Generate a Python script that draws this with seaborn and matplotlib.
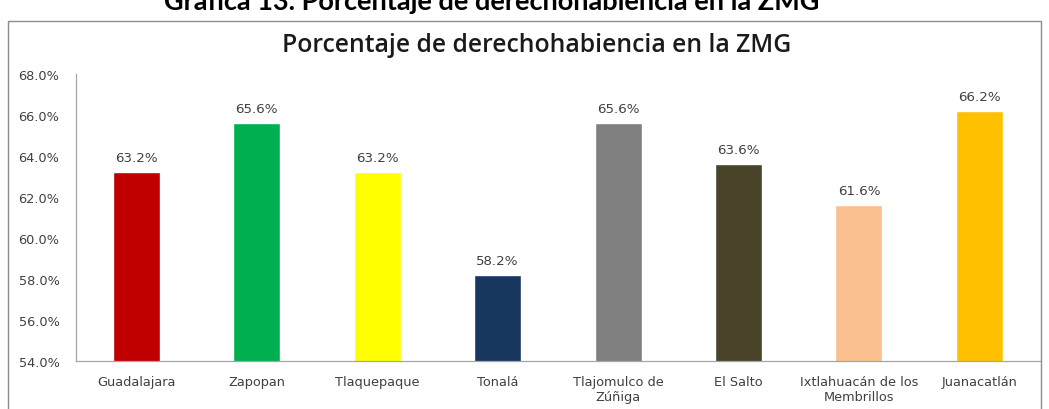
import matplotlib
matplotlib.use("Agg")
import matplotlib.pyplot as plt
import seaborn as sns
import pandas as pd
from matplotlib.patches import Rectangle
from matplotlib.ticker import FuncFormatter, FixedLocator

# data
municipios = ["Guadalajara", "Zapopan", "Tlaquepaque", "Tonalá",
              "Tlajomulco de\nZúñiga", "El Salto",
              "Ixtlahuacán de los\nMembrillos", "Juanacatlán"]
porcentaje = [63.2, 65.6, 63.2, 58.2, 65.6, 63.6, 61.6, 66.2]
colores = ["#C00000", "#00B050", "#FFFF00", "#17375E",
           "#808080", "#494429", "#FAC090", "#FFC000"]
y_ticks = [54, 56, 58, 60, 62, 64, 66, 68]

df = pd.DataFrame({"municipio": municipios, "pct": porcentaje})

sns.set_style("white")
plt.rcParams["font.family"] = ["DejaVu Sans"]

fig = plt.figure(figsize=(10.49, 4.10), dpi=100)
ax = fig.add_axes([0.0725, 0.117, 0.9185, 0.70])

sns.barplot(data=df, x="municipio", y="pct", hue="municipio",
            palette=colores, legend=False, width=0.39, saturation=1, ax=ax)

ax.set_ylim(54, 68)
ax.set_xlim(-0.5, len(municipios) - 0.5)
ax.set_yticks(y_ticks)
ax.yaxis.set_major_formatter(FuncFormatter(lambda v, p: f"{v:.1f}%"))
ax.set_xlabel("")
ax.set_ylabel("")

# value labels
for cont in ax.containers:
    ax.bar_label(cont, fmt="%.1f%%", padding=6, fontsize=9.6, color="#404040")

# axes styling (excel-like)
for s in ["top", "right"]:
    ax.spines[s].set_visible(False)
for s in ["left", "bottom"]:
    ax.spines[s].set_color("#A6A6A6")
    ax.spines[s].set_linewidth(0.9)
ax.tick_params(axis="y", length=4, color="#A6A6A6", labelsize=9.3,
               labelcolor="#404040", pad=8)
ax.tick_params(axis="x", which="major", length=0, labelsize=9.3,
               labelcolor="#404040", pad=10)
ax.xaxis.set_minor_locator(FixedLocator([i - 0.5 for i in range(len(municipios) + 1)]))
ax.tick_params(axis="x", which="minor", length=4, color="#A6A6A6")

# chart title and the outer caption (cut off at the top, as in the source)
fig.text(0.512, 0.89, "Porcentaje de derechohabiencia en la ZMG",
         ha="center", va="center", fontsize=17.8, family="Open Sans",
         fontweight="semibold", color="#1a1a1a")
fig.text(0.469, 0.995, "Gráfica 13. Porcentaje de derechohabiencia en la ZMG",
         ha="center", va="center", fontsize=19.5, family="Lato",
         fontweight="bold", color="black")

# chart border
fig.patches.append(Rectangle((8 / 1049, -0.05), (1041 - 8) / 1049, 1.05 - 22 / 410,
                             transform=fig.transFigure, fill=False,
                             edgecolor="#8C8C8C", linewidth=1.0))

fig.savefig("out.png", dpi=100)
